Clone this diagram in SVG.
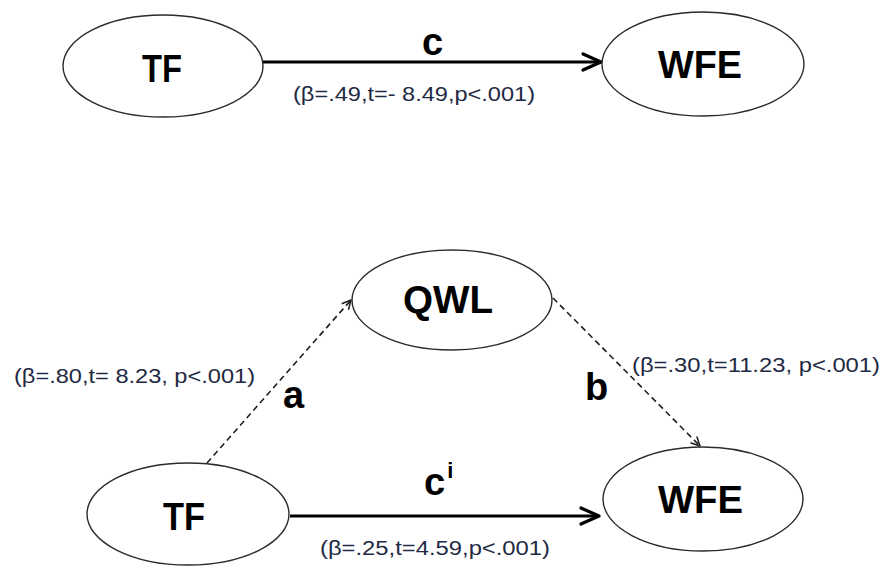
<svg xmlns="http://www.w3.org/2000/svg" width="884" height="567" viewBox="0 0 884 567">
  <style>
    .node { fill: #ffffff; stroke: #2b2b2b; stroke-width: 1.4; }
    .name { font-family: "Liberation Sans", Arial, sans-serif; font-weight: bold; font-size: 38px; fill: #000000; text-anchor: start; }
    .path-label { font-family: "Liberation Sans", Arial, sans-serif; font-weight: bold; font-size: 38px; fill: #000000; }
    .stat { font-family: "Liberation Sans", Arial, sans-serif; font-size: 20px; fill: #1f2a44; }
    .direct { stroke: #000000; stroke-width: 3.2; fill: none; marker-end: url(#headSolid); }
    .indirect { stroke: #1e1e1e; stroke-width: 1.6; stroke-dasharray: 6 4; fill: none; marker-end: url(#headDashed); }
  </style>
  <defs>
    <marker id="headSolid" markerUnits="userSpaceOnUse" viewBox="-22 -12 26 24" refX="0" refY="0" markerWidth="26" markerHeight="24" orient="auto" overflow="visible">
      <path d="M -18 -8 L 0 0 L -18 8" fill="none" stroke="#000000" stroke-width="3.2" stroke-linecap="round" stroke-linejoin="round"/>
    </marker>
    <marker id="headDashed" markerUnits="userSpaceOnUse" viewBox="-12 -8 14 16" refX="0" refY="0" markerWidth="14" markerHeight="16" orient="auto" overflow="visible">
      <path d="M -9 -4.5 L 0 0 L -9 4.5" fill="none" stroke="#1e1e1e" stroke-width="1.5" stroke-linejoin="round"/>
    </marker>
  </defs>

  <rect width="884" height="567" fill="#ffffff"/>

  <!-- connectors -->
  <g id="connectors">
    <path class="direct" d="M 263 62 L 601 62"/>
    <path class="direct" d="M 290 516 L 599 516"/>
    <path class="indirect" d="M 207 463 L 351 300"/>
    <path class="indirect" d="M 553 298 L 700 446"/>

    <text class="path-label" x="422" y="55">c</text>
    <text class="stat" x="293" y="101" textLength="242" lengthAdjust="spacingAndGlyphs">(β=.49,t=- 8.49,p&lt;.001)</text>

    <text class="path-label" x="283" y="408">a</text>
    <text class="stat" x="14" y="383" textLength="241" lengthAdjust="spacingAndGlyphs">(β=.80,t= 8.23, p&lt;.001)</text>

    <text class="path-label" x="585" y="400">b</text>
    <text class="stat" x="632" y="372" textLength="248" lengthAdjust="spacingAndGlyphs">(β=.30,t=11.23, p&lt;.001)</text>

    <text class="path-label" x="424" y="495">c<tspan font-size="22" dx="2" dy="-17">i</tspan></text>
    <text class="stat" x="320" y="555" textLength="230" lengthAdjust="spacingAndGlyphs">(β=.25,t=4.59,p&lt;.001)</text>
  </g>

  <!-- total effect model -->
  <g id="tf-top">
    <ellipse class="node" cx="163" cy="66" rx="100" ry="51"/>
    <text class="name" x="142" y="82" textLength="40" lengthAdjust="spacingAndGlyphs">TF</text>
  </g>
  <g id="wfe-top">
    <ellipse class="node" cx="703" cy="64" rx="101" ry="52"/>
    <text class="name" x="658" y="78" textLength="84" lengthAdjust="spacingAndGlyphs">WFE</text>
  </g>

  <!-- mediation model -->
  <g id="qwl">
    <ellipse class="node" cx="452" cy="300" rx="100" ry="50"/>
    <text class="name" x="403" y="313" textLength="90" lengthAdjust="spacingAndGlyphs">QWL</text>
  </g>
  <g id="tf-bottom">
    <ellipse class="node" cx="188" cy="514" rx="101" ry="51"/>
    <text class="name" x="163" y="530" textLength="42" lengthAdjust="spacingAndGlyphs">TF</text>
  </g>
  <g id="wfe-bottom">
    <ellipse class="node" cx="703" cy="499" rx="100" ry="52"/>
    <text class="name" x="658" y="513" textLength="85" lengthAdjust="spacingAndGlyphs">WFE</text>
  </g>
</svg>
